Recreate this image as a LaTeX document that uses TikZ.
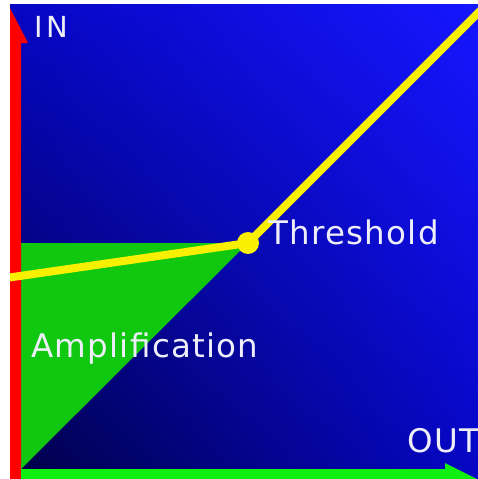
\documentclass[tikz,border=0pt]{standalone}
\usepackage{fontspec}
\setmainfont{DejaVu Sans}[LetterSpace=4]
\usetikzlibrary{shadings}
\definecolor{cDeep}{HTML}{000046}
\definecolor{cMid}{HTML}{0606C4}
\definecolor{cBright}{HTML}{1616FF}
\definecolor{cAmp}{HTML}{10C810}
\definecolor{cOut}{HTML}{10F010}
\definecolor{cIn}{HTML}{FF0000}
\definecolor{cCurve}{HTML}{F8F000}
\definecolor{cText}{HTML}{EEEEFA}

\begin{document}
\begin{tikzpicture}[x=1pt,y=-1pt,
    lbl/.style={anchor=base west,inner sep=0pt,text=cText,font=\fontsize{32.5}{38}\selectfont},
    curve/.style={cCurve,line width=8pt},
    dot/.style={circle,fill=cCurve,minimum size=22pt,inner sep=0pt}]
  \useasboundingbox (0,0) rectangle (478,479);
  \begin{scope}
    \clip (10,4) rectangle (478,479);
    \shade[lower left=cDeep,upper right=cBright,upper left=cMid,lower right=cMid] (10,4) rectangle (478,479);
    % points of the curve
    \coordinate (origin) at (21,469);
    \coordinate (lowEnd) at (6,278);
    \coordinate (highEnd) at (490,1);
    \coordinate (thr) at (248,243);
    % amplification zone
    \fill[cAmp] (origin) -- (origin |- thr) -- (thr) -- cycle;
    % axes
    \fill[cIn] (10,479) -- (10,8) -- (28,43) -- (21,43) -- (21,479) -- cycle;
    \fill[cOut] (21,479) -- (21,469) -- (445,469) -- (445,463) -- (478,479.5) -- cycle;
    % response
    \draw[curve] (lowEnd) -- (thr) -- (highEnd);
    \node[dot] (thrDot) at (thr) {};
  \end{scope}
  \node[lbl,font=\fontsize{29}{34}\selectfont\addfontfeature{LetterSpace=12}] (in) at (34,37) {IN};
  \node[lbl] (out) at (407,452) {OUT};
  \node[lbl] (thrLbl) at (268,244) {Threshold};
  \node[lbl] (amp) at (31,357) {Amplification};
\end{tikzpicture}
\end{document}
